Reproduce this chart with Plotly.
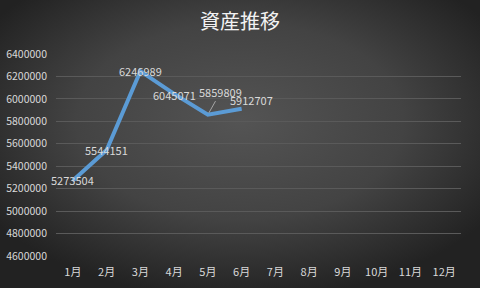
import base64
import plotly.graph_objects as go

months = ["1月", "2月", "3月", "4月", "5月", "6月", "7月", "8月", "9月", "10月", "11月", "12月"]
assets = [5273504, 5544151, 6246989, 6045071, 5859809, 5912707]
y_ticks = [4600000, 4800000, 5000000, 5200000, 5400000, 5600000, 5800000, 6000000, 6200000, 6400000]

W, H = 480, 288
ML, MR, MT, MB = 56, 19, 54, 32
PW, PH = W - ML - MR, H - MT - MB

# background radial gradient (styling only)
svg = """<svg xmlns='http://www.w3.org/2000/svg' width='480' height='288' preserveAspectRatio='none'>
<defs><radialGradient id='g' cx='50%' cy='42%' r='62%'>
<stop offset='0%' stop-color='#545454'/><stop offset='55%' stop-color='#434343'/><stop offset='100%' stop-color='#222222'/>
</radialGradient></defs><rect width='480' height='288' fill='url(#g)'/></svg>"""
bg = "data:image/svg+xml;base64," + base64.b64encode(svg.encode()).decode()

fig = go.Figure()
fig.add_trace(go.Scatter(x=months, y=[None] * len(months), mode="lines", hoverinfo="skip"))
fig.add_trace(go.Scatter(
    x=months[:len(assets)], y=assets, mode="lines",
    line=dict(color="#5B9BD5", width=4), hoverinfo="skip",
))

label_font = dict(family="Noto Sans CJK JP", size=11, color="#d9d9d9")
offsets = [(0, 0), (0, 0), (0, 0), (0, -1), None, (10, 9)]
annotations = []
for i, v in enumerate(assets):
    if offsets[i] is None:
        annotations.append(dict(
            x=months[i], y=v, text=str(v), showarrow=True, arrowhead=0,
            arrowwidth=1, arrowcolor="#a6a6a6", ax=13, ay=-23, standoff=2,
            font=label_font,
        ))
    else:
        annotations.append(dict(
            x=months[i], y=v, text=str(v), showarrow=False,
            xshift=offsets[i][0], yshift=offsets[i][1], font=label_font,
        ))

fig.update_layout(
    width=W, height=H,
    margin=dict(l=ML, r=MR, t=MT, b=MB, autoexpand=False),
    paper_bgcolor="#3a3a3a", plot_bgcolor="rgba(0,0,0,0)",
    images=[dict(source=bg, xref="paper", yref="paper",
                 x=-ML / PW, y=1 + MT / PH, sizex=W / PW, sizey=H / PH,
                 xanchor="left", yanchor="top", layer="below", sizing="stretch")],
    title=dict(text="資産推移", x=0.5, xanchor="center", y=1 - 22 / H, yanchor="middle",
               font=dict(family="Noto Sans CJK JP", size=20, color="#f2f2f2")),
    showlegend=False,
    annotations=annotations,
    xaxis=dict(categoryorder="array", categoryarray=months, range=[-0.5, 11.5],
               showgrid=False, showline=False, zeroline=False, ticks="", automargin=False,
               tickfont=dict(family="Noto Sans CJK JP", size=11, color="#d9d9d9"),
               ticklabelstandoff=8),
    yaxis=dict(range=[4600000, 6400000], tickvals=y_ticks, ticktext=[str(t) for t in y_ticks],
               showgrid=True, gridcolor="#5a5a5a", gridwidth=1, zeroline=False,
               showline=False, ticks="", automargin=False,
               tickfont=dict(family="Noto Sans CJK JP", size=10.5, color="#d9d9d9"),
               ticklabelstandoff=8),
)
fig.write_html("out.html")
